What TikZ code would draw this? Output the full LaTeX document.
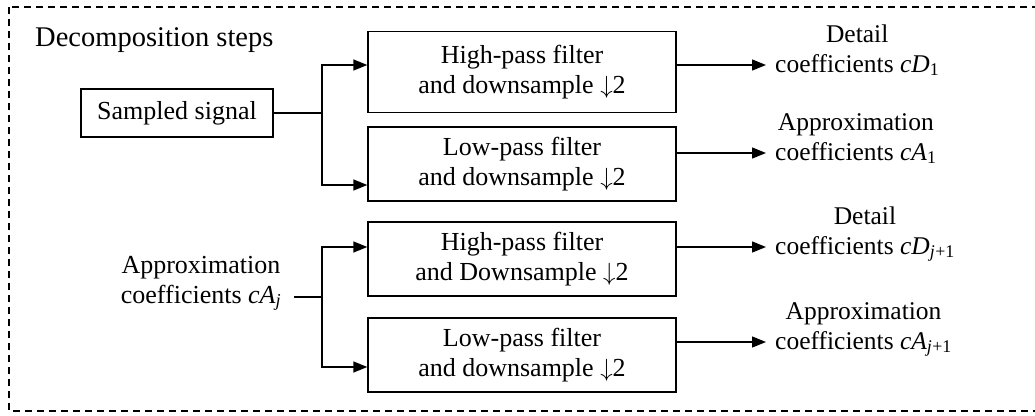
\documentclass[tikz,border=0pt]{standalone}
\usepackage{fontspec}
\setmainfont{Liberation Serif}
\usetikzlibrary{arrows.meta,calc}
\newcommand{\dsarrow}{$\downarrow$2}
\begin{document}
\begin{tikzpicture}[x=1pt,y=-1pt,
  every node/.style={font=\fontsize{26}{30}\selectfont},
  block/.style={draw, line width=1.4pt, minimum width=308pt, minimum height=74pt,
                align=center, inner sep=0pt},
  txt/.style={inner sep=0pt, anchor=base},
  coeflbl/.style={inner sep=0pt, anchor=base west, font=\fontsize{25.5}{30}\selectfont},
  link/.style={line width=1.4pt},
  arr/.style={link, -{Triangle[length=14pt,width=11pt]}}]

% page and dashed frame
\useasboundingbox (0,0) rectangle (1035,415);
\draw[line width=1.3pt, dash pattern=on 7pt off 5pt] (9,7) rectangle (1050,411);

% title
\node[txt, anchor=base west, font=\fontsize{28.5}{32}\selectfont] (title) at (35,46) {Decomposition steps};

% first level
\node[draw, line width=1.4pt, minimum width=192pt, minimum height=48pt, inner sep=0pt]
  (sig) at (177,113) {Sampled signal};
\node[block, minimum height=81pt] (hp1) at (522,72) {High-pass filter\\and downsample \dsarrow};
\node[block] (lp1) at (522,164) {Low-pass filter\\and downsample \dsarrow};

\coordinate (b1) at (322,113);
\draw[link] (sig.east) -- (b1);
\draw[arr] (b1) |- ([yshift=7pt]hp1.west);
\draw[arr] (b1) |- ([yshift=-21pt]lp1.west);

\node[coeflbl] (d1) at (775,72)
  {\begin{tabular}[b]{@{}c@{}}Detail\\coefficients \textit{cD}\textsubscript{1}\end{tabular}};
\node[coeflbl] (a1) at (775,160)
  {\begin{tabular}[b]{@{}c@{}}Approximation\\coefficients \textit{cA}\textsubscript{1}\end{tabular}};
\coordinate (o1) at (766,65);
\coordinate (o2) at (766,153);
\draw[arr] (hp1.east |- o1) -- (o1);
\draw[arr] (lp1.east |- o2) -- (o2);

% level j
\node[txt] (aj) at (201,303)
  {\begin{tabular}[b]{@{}c@{}}Approximation\\coefficients \textit{cA\textsubscript{j}}\end{tabular}};
\node[block] (hp2) at (522,259) {High-pass filter\\and Downsample \dsarrow};
\node[block] (lp2) at (522,355) {Low-pass filter\\and downsample \dsarrow};

\coordinate (b2) at (322,297);
\draw[link] ($(aj.east |- b2)+(13,0)$) -- (b2);
\draw[arr] (b2) |- ([yshift=12pt]hp2.west);
\draw[arr] (b2) |- ([yshift=-12pt]lp2.west);

\node[coeflbl] (d2) at (775,254)
  {\begin{tabular}[b]{@{}c@{}}Detail\\coefficients \textit{cD\textsubscript{j}}\textsubscript{+1}\end{tabular}};
\node[coeflbl] (a2) at (775,349)
  {\begin{tabular}[b]{@{}c@{}}Approximation\\coefficients \textit{cA\textsubscript{j}}\textsubscript{+1}\end{tabular}};
\coordinate (o3) at (766,247);
\coordinate (o4) at (766,342);
\draw[arr] (hp2.east |- o3) -- (o3);
\draw[arr] (lp2.east |- o4) -- (o4);
\end{tikzpicture}
\end{document}
